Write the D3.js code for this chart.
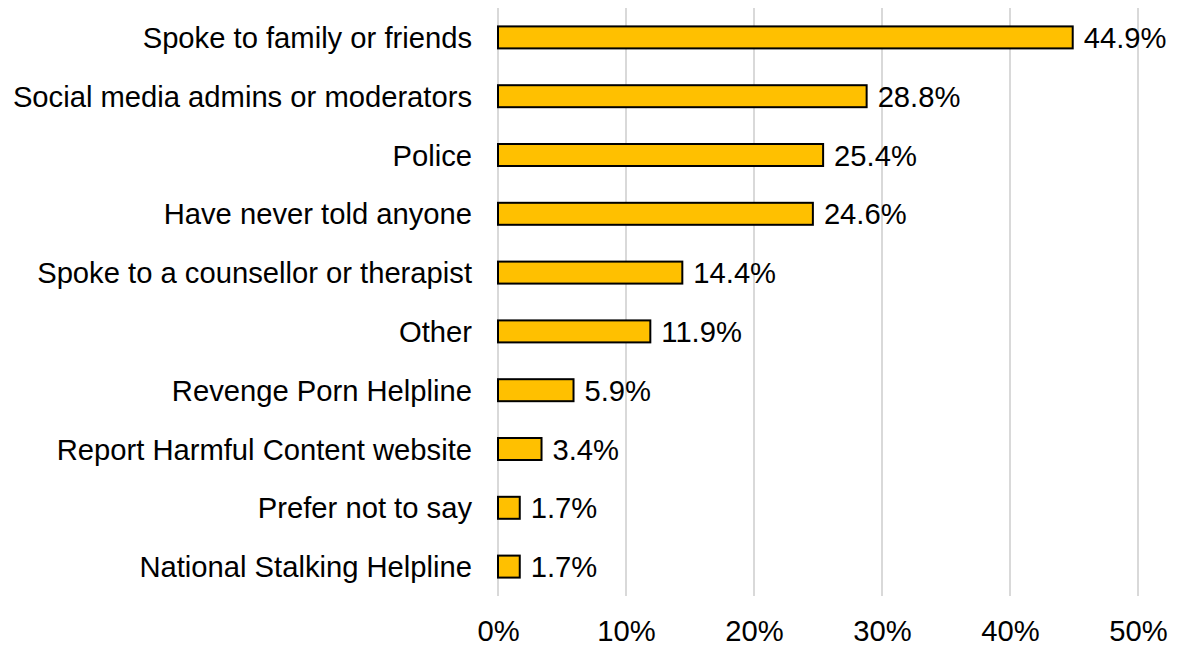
<!DOCTYPE html>
<html>
<head>
    <meta charset="utf-8">
    <title>Who victims told</title>
    <script src="https://d3js.org/d3.v7.min.js"></script>
    <style>
        body { margin: 0; background: #fff; }
        text { font-family: "Liberation Sans", Arial, sans-serif; fill: #000; }
        .grid line { stroke: #d9d9d9; stroke-width: 2; }
        .bar { fill: #ffc000; stroke: #000; stroke-width: 2; }
    </style>
</head>
<body>
    <script>
        // chart data
        var categories = [
            "Spoke to family or friends",
            "Social media admins or moderators",
            "Police",
            "Have never told anyone",
            "Spoke to a counsellor or therapist",
            "Other",
            "Revenge Porn Helpline",
            "Report Harmful Content website",
            "Prefer not to say",
            "National Stalking Helpline"
        ];
        var values = [44.9, 28.8, 25.4, 24.6, 14.4, 11.9, 5.9, 3.4, 1.7, 1.7];
        var tickValues = [0, 10, 20, 30, 40, 50];

        var width = 1177, height = 646;
        var fontSize = 29.2;

        var svg = d3.select("body").append("svg")
            .attr("width", width)
            .attr("height", height);

        var x = d3.scaleLinear().domain([0, 50]).range([498, 1138]);
        var y = d3.scaleBand().domain(categories).range([8, 596])
            .paddingInner(0.626).paddingOuter(0.313);

        // gridlines
        svg.append("g").attr("class", "grid")
            .selectAll("line")
            .data(tickValues)
            .enter().append("line")
            .attr("x1", d => x(d)).attr("x2", d => x(d))
            .attr("y1", 8).attr("y2", 596);

        // bars
        svg.selectAll(".bar")
            .data(values)
            .enter().append("rect")
            .attr("class", "bar")
            .attr("x", x(0))
            .attr("y", (d, i) => y(categories[i]))
            .attr("width", d => x(d) - x(0))
            .attr("height", y.bandwidth());

        // value labels
        svg.selectAll(".val")
            .data(values)
            .enter().append("text")
            .attr("class", "val")
            .attr("x", d => x(d) + 11)
            .attr("y", (d, i) => y(categories[i]) + y.bandwidth() / 2)
            .attr("dy", "0.36em")
            .style("font-size", fontSize + "px")
            .text(d => d.toFixed(1) + "%");

        // category labels
        svg.selectAll(".cat")
            .data(categories)
            .enter().append("text")
            .attr("class", "cat")
            .attr("x", 472)
            .attr("y", d => y(d) + y.bandwidth() / 2)
            .attr("dy", "0.36em")
            .attr("text-anchor", "end")
            .style("font-size", fontSize + "px")
            .text(d => d);

        // x axis tick labels
        var xAxis = d3.axisBottom(x).tickValues(tickValues)
            .tickFormat(d => d + "%").tickSize(0).tickPadding(0);
        var axisG = svg.append("g")
            .attr("transform", "translate(0,641)")
            .call(xAxis);
        axisG.select(".domain").remove();
        axisG.selectAll("text")
            .attr("dy", 0)
            .style("font-size", fontSize + "px")
            .style("font-family", '"Liberation Sans", Arial, sans-serif')
            .attr("fill", "#000");
    </script>
</body>
</html>
